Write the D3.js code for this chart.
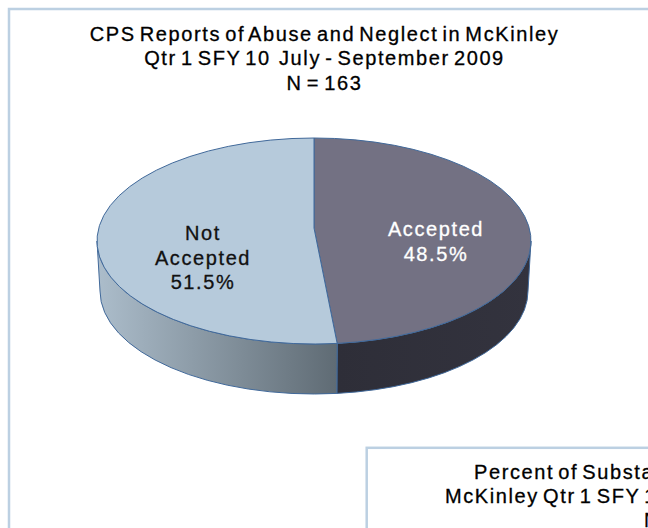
<!DOCTYPE html>
<html><head><meta charset="utf-8">
<style>html,body{margin:0;padding:0;background:#fff;overflow:hidden}svg{display:block}
text{font-family:"Liberation Sans",Arial,sans-serif;white-space:pre}</style>
<script src="https://cdn.jsdelivr.net/npm/d3@7"></script></head><body>
<script>
const categories = ["Accepted", "Not Accepted"];
const values = [48.5, 51.5];
const titleLines = ["CPS Reports of Abuse and Neglect in McKinley", "Qtr 1 SFY 10  July - September 2009", "N = 163"];
const secondTitleLines = ["Percent of Substantiated", "McKinley Qtr 1 SFY 10", "N"];
const topColors = ["#737183", "#b6cadb"];
const sideColors = [["#2e2e38", "#33333e"], ["#acbdcb", "#5f6b74"]];

const W = 648, H = 528;
const svg = d3.select("body").append("svg").attr("width", W).attr("height", H);
const defs = svg.append("defs");
const border = "#bcd0e2";

svg.append("rect").attr("x", 9).attr("y", 9).attr("width", W + 20).attr("height", H + 20)
  .attr("fill", "#fff").attr("stroke", border).attr("stroke-width", 2.5);

// pie geometry: a tilted disc seen in perspective
const cx = 314, cy = 241, rx = 217, rxBottom = 214, ry = 103, depth = 50, pivotY = 228;
const k = (cy - pivotY) / ry;
const warp = a => {
  const den = 1 + k * Math.cos(a);
  const t = Math.atan2(Math.sqrt(1 - k * k) * Math.sin(a) / den, (Math.cos(a) + k) / den);
  return a >= 2 * Math.PI - 1e-9 ? 2 * Math.PI : (t < 0 ? t + 2 * Math.PI : t);
};
const arcs = d3.pie().sort(null).value(d => d)(values)
  .map(d => ({ ...d, t0: warp(d.startAngle), t1: warp(d.endAngle) }));
const px = (t, r = rx) => cx + r * Math.sin(t);
const py = (t, dy = 0) => cy - ry * Math.cos(t) + dy;
const edge = "#41699a";

// side walls: only the front-facing part of each slice
arcs.forEach((d, i) => {
  const a0 = Math.max(d.t0, Math.PI / 2), a1 = Math.min(d.t1, 3 * Math.PI / 2);
  const id = "side" + i;
  const g = defs.append("linearGradient").attr("id", id).attr("gradientUnits", "userSpaceOnUse")
    .attr("x1", Math.min(px(a0), px(a1))).attr("x2", Math.max(px(a0), px(a1))).attr("y1", 0).attr("y2", 0);
  g.append("stop").attr("offset", 0).attr("stop-color", sideColors[i][0]);
  g.append("stop").attr("offset", 1).attr("stop-color", sideColors[i][1]);
  svg.append("path")
    .attr("d", `M${px(a0)},${py(a0)}L${px(a0, rxBottom)},${py(a0, depth)}`
      + `A${rxBottom},${ry} 0 0 1 ${px(a1, rxBottom)},${py(a1, depth)}`
      + `L${px(a1)},${py(a1)}A${rx},${ry} 0 0 0 ${px(a0)},${py(a0)}Z`)
    .attr("fill", `url(#${id})`).attr("stroke", edge).attr("stroke-width", 1);
});

// top faces
arcs.forEach((d, i) => {
  const large = d.t1 - d.t0 > Math.PI ? 1 : 0;
  svg.append("path")
    .attr("d", `M${cx},${pivotY}L${px(d.t0)},${py(d.t0)}A${rx},${ry} 0 ${large} 1 ${px(d.t1)},${py(d.t1)}Z`)
    .attr("fill", topColors[i]).attr("stroke", edge).attr("stroke-width", 1).attr("stroke-linejoin", "round");
});

// text
function put(t, x, y, anchor, fill) {
  svg.append("text").attr("x", x).attr("y", y).attr("text-anchor", anchor).attr("fill", fill)
    .attr("font-size", 20).attr("letter-spacing", 1.6).attr("word-spacing", -3)
    .attr("stroke", fill).attr("stroke-width", 0.3).text(t);
}
titleLines.forEach((t, i) => put(t, 324.5, 41 + i * 24.4, "middle", "#000"));

const labelLines = (c, v) => c.split(" ").concat([v.toFixed(1) + "%"]);
labelLines(categories[0], values[0]).forEach((t, i) => put(t, 436, 236 + i * 24.5, "middle", "#fff"));
labelLines(categories[1], values[1]).forEach((t, i) => put(t, 203, 240 + i * 24.5, "middle", "#111"));

// second panel, cut off by the window
svg.append("rect").attr("x", 366.7).attr("y", 447.8).attr("width", 400).attr("height", 200)
  .attr("fill", "#fff").attr("stroke", border).attr("stroke-width", 2.5);
put(secondTitleLines[0], 474, 479, "start", "#000");
put(secondTitleLines[1], 445, 503, "start", "#000");
put(secondTitleLines[2], 644, 527, "start", "#000");
</script></body></html>
